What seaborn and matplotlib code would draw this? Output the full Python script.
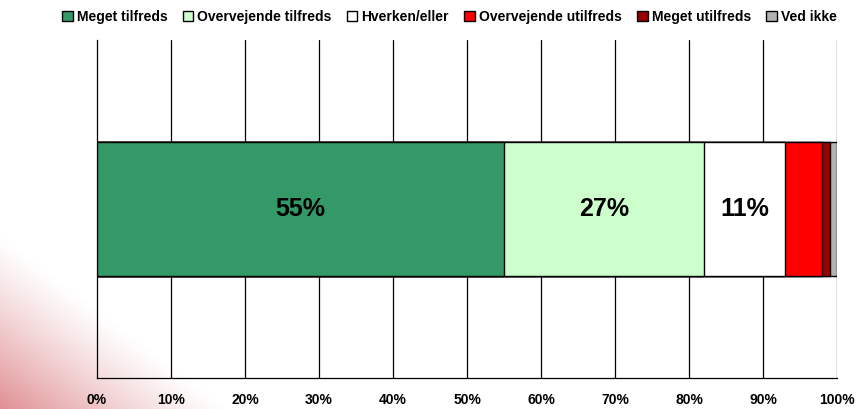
import numpy as np
import pandas as pd
import matplotlib.pyplot as plt
import seaborn as sns

sns.set_style("white")
plt.rcParams['font.family'] = ['Liberation Sans', 'DejaVu Sans']
plt.rcParams['font.weight'] = 'bold'
plt.rcParams['text.color'] = 'black'
plt.rcParams['xtick.color'] = 'black'

categories = ["Meget tilfreds", "Overvejende tilfreds", "Hverken/eller",
              "Overvejende utilfreds", "Meget utilfreds", "Ved ikke"]
values = [55, 27, 11, 5, 1, 1]
colors = ["#339966", "#CCFFCC", "#FFFFFF", "#FF0000", "#990000", "#B2B2B2"]
tick_labels = ["0%", "10%", "20%", "30%", "40%", "50%", "60%", "70%", "80%", "90%", "100%"]

cum = np.cumsum(values)
df = pd.DataFrame({"kategori": categories, "start": cum - np.array(values),
                   "slut": cum, "vaerdi": values, "row": [""] * len(values)})

fig = plt.figure(figsize=(8.56, 4.09), dpi=100)

# pink corner shading in the background
bg = fig.add_axes([0, 0, 1, 1], zorder=-5)
h, w = 409, 856
yy, xx = np.mgrid[0:h, 0:w]
t = xx / 230.0 + (h - yy) / 175.0
alpha = np.clip(1 - t, 0, 1) ** 1.2 * 0.8
img = np.zeros((h, w, 4))
img[..., 0] = 0.85
img[..., 1] = 0.45
img[..., 2] = 0.47
img[..., 3] = alpha
bg.imshow(img, aspect='auto', extent=[0, 1, 0, 1], origin='upper')
bg.axis('off')

ax = fig.add_axes([97 / 856, 1 - 378 / 409, 740 / 856, 338 / 409])
ax.patch.set_alpha(0)

# stacked bars: draw cumulative totals from largest down
for i in range(len(values) - 1, -1, -1):
    sub = df.iloc[[i]]
    sns.barplot(data=sub, x="slut", y="row", color=colors[i], orient="h",
                width=0.395, edgecolor="black", linewidth=1, saturation=1,
                ax=ax, label=categories[i], zorder=3)

handles, labels = ax.get_legend_handles_labels()
if ax.get_legend() is not None:
    ax.get_legend().remove()

for _, r in df.iterrows():
    if r["vaerdi"] >= 10:
        ax.text((r["start"] + r["slut"]) / 2, 0, f"{r['vaerdi']}%", ha="center",
                va="center", fontsize=18, fontweight="bold", color="black", zorder=4)

ax.set_xlim(0, 100)
ax.set_ylim(0.5, -0.5)
ax.set_xticks(np.arange(0, 101, 10))
ax.set_xticklabels(tick_labels, fontsize=10, fontweight="bold")
ax.set_yticks([])
ax.set_xlabel("")
ax.set_ylabel("")
for x in range(10, 101, 10):
    ax.axvline(x, color="black", lw=0.9, zorder=1)
for s in ["top", "right"]:
    ax.spines[s].set_visible(False)
ax.spines["left"].set_color("black")
ax.spines["bottom"].set_color("black")
ax.spines["left"].set_linewidth(0.9)
ax.spines["bottom"].set_linewidth(0.9)
ax.tick_params(axis="x", direction="out", length=4.5, width=0.9, color="black",
               labelcolor="black", pad=6)

order = [labels.index(c) for c in categories]
handles = [handles[i] for i in order]
labels = [labels[i] for i in order]
fig.legend(handles, labels, loc="center", bbox_to_anchor=(0.525, 0.958), ncol=6,
           frameon=False, handlelength=0.75, handleheight=0.75,
           handletextpad=0.3, columnspacing=1.1, labelcolor="black",
           prop={"weight": "bold", "size": 10})

fig.savefig("out.png", dpi=100)
